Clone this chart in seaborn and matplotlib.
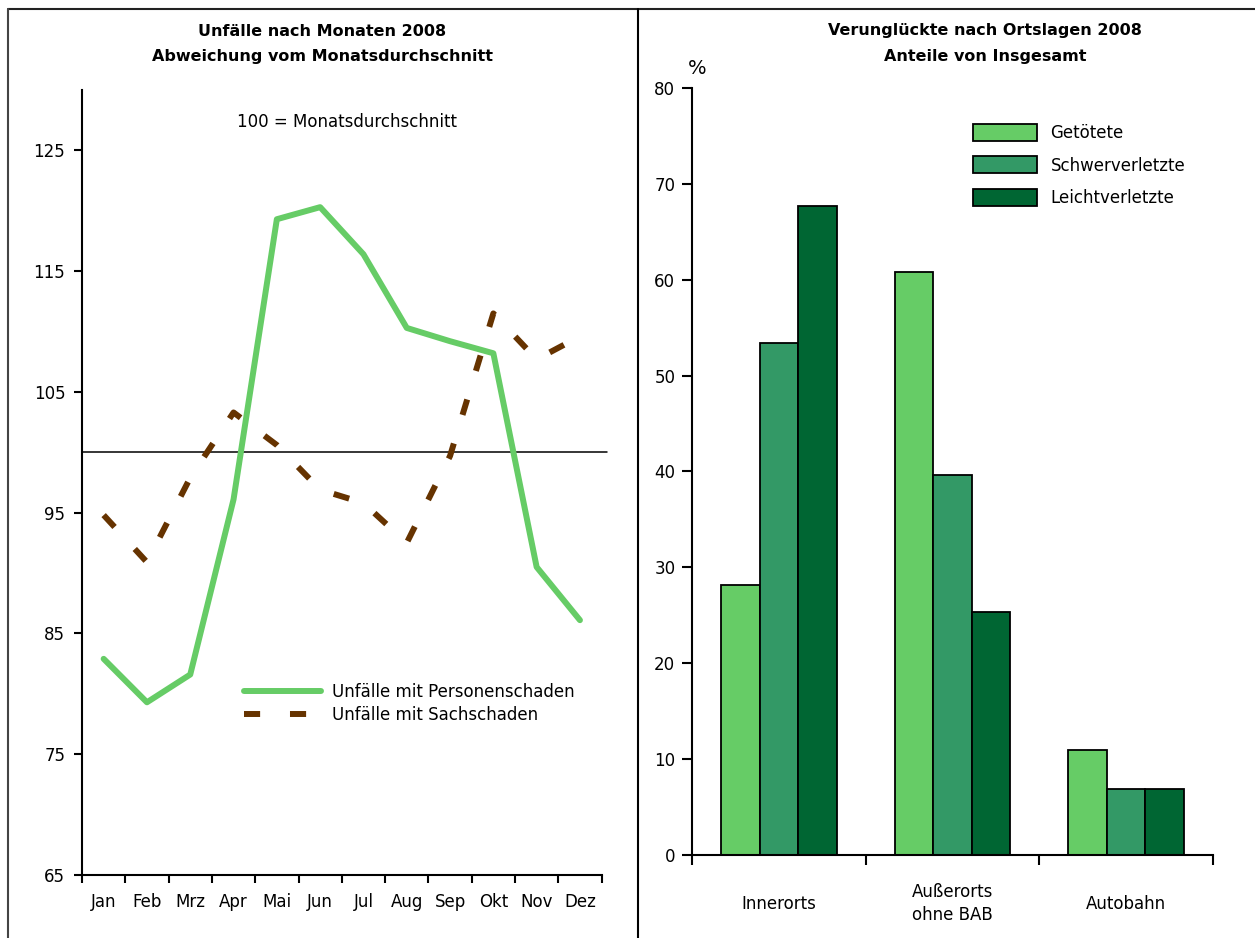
import matplotlib
matplotlib.use("Agg")
import matplotlib.pyplot as plt
from matplotlib.lines import Line2D
from matplotlib.patches import Patch
import numpy as np
import pandas as pd
import seaborn as sns

# data
monate = ["Jan", "Feb", "Mrz", "Apr", "Mai", "Jun", "Jul", "Aug", "Sep", "Okt", "Nov", "Dez"]
personenschaden = [82.9, 79.3, 81.6, 96.1, 119.3, 120.3, 116.4, 110.3, 109.2, 108.2, 90.5, 86.1]
sachschaden = [94.8, 90.9, 97.9, 103.3, 100.6, 96.9, 95.8, 92.5, 99.7, 111.5, 107.7, 109.6]

ortslagen = ["Innerorts", "Außerorts\nohne BAB", "Autobahn"]
getoetete = [28.2, 60.8, 11.0]
schwerverletzte = [53.4, 39.6, 6.9]
leichtverletzte = [67.7, 25.3, 6.9]
gruppen = ["Getötete", "Schwerverletzte", "Leichtverletzte"]
farben = ["#66cc66", "#339966", "#006633"]

sns.set_style("ticks")
plt.rcParams["font.family"] = ["DejaVu Sans"]
plt.rcParams["axes.linewidth"] = 1.5
for key in ["text.color", "axes.labelcolor", "xtick.color", "ytick.color", "axes.edgecolor"]:
    plt.rcParams[key] = "black"

W, H = 1255, 938
fig = plt.figure(figsize=(W / 100, H / 100), dpi=100)


def fx(px):
    return px / W


def fy(py):
    return 1 - py / H


# --- left panel: lines ---
ax1 = fig.add_axes([fx(82), fy(875), fx(601.6) - fx(82), (875 - 90) / H])
line_df = pd.DataFrame({"idx": np.arange(len(monate)),
                        "Personenschaden": personenschaden,
                        "Sachschaden": sachschaden})

ax1.axhline(100, color="black", lw=1.1, xmax=1.01, clip_on=False, zorder=1)
sns.lineplot(data=line_df, x="idx", y="Personenschaden", ax=ax1, color="#66cc66",
             lw=4.3, solid_capstyle="round", label="Unfälle mit Personenschaden", zorder=3)
sns.lineplot(data=line_df, x="idx", y="Sachschaden", ax=ax1, color="#663300",
             lw=4.3, linestyle=(0, (2.7, 5)), label="Unfälle mit Sachschaden", zorder=2)

ax1.set_xlim(-0.5, len(monate) - 0.5)
ax1.set_ylim(65, 130)
ax1.set_yticks([65, 75, 85, 95, 105, 115, 125])
ax1.set_xticks(np.arange(-0.5, len(monate), 1.0))
ax1.set_xticklabels([])
ax1.set_xticks(np.arange(len(monate)), minor=True)
ax1.set_xticklabels(monate, minor=True)
ax1.tick_params(axis="x", which="major", length=6, width=1.5, direction="out")
ax1.tick_params(axis="x", which="minor", length=0, pad=13, labelsize=12)
ax1.tick_params(axis="y", length=6, width=1.5, pad=6, labelsize=12)
ax1.set_xlabel("")
ax1.set_ylabel("")
sns.despine(ax=ax1)
ax1.legend(loc="center left", bbox_to_anchor=((244 - 82) / 519.6, (875 - 703.5) / 785),
           frameon=False, fontsize=12, handlelength=4.6, handletextpad=0.7,
           borderpad=0, borderaxespad=0, labelspacing=0.3)
fig.text(fx(347), fy(122), "100 = Monatsdurchschnitt", ha="center", va="center", fontsize=12)

# --- right panel: bars ---
ax2 = fig.add_axes([fx(692), fy(855), fx(1213) - fx(692), (855 - 88) / H])
bar_df = pd.DataFrame({
    "ort": ortslagen * 3,
    "gruppe": [g for g in gruppen for _ in ortslagen],
    "anteil": getoetete + schwerverletzte + leichtverletzte,
})
sns.barplot(data=bar_df, x="ort", y="anteil", hue="gruppe", hue_order=gruppen,
            palette=farben, width=0.666, edgecolor="black", linewidth=1.3,
            ax=ax2, legend=False, saturation=1)
ax2.set_xlim(-0.5, len(ortslagen) - 0.5)
ax2.set_ylim(0, 80)
ax2.set_yticks(range(0, 81, 10))
ax2.set_xticks(np.arange(-0.5, len(ortslagen), 1.0))
ax2.set_xticklabels([])
ax2.set_xticks(np.arange(len(ortslagen)), minor=True)
ax2.set_xticklabels(ortslagen, minor=True)
for lab in ax2.get_xticklabels(minor=True):
    lab.set_va("center")
    lab.set_linespacing(1.35)
ax2.tick_params(axis="x", which="major", length=7, width=1.5, direction="out")
ax2.tick_params(axis="x", which="minor", length=0, pad=35, labelsize=12)
ax2.tick_params(axis="y", length=7, width=1.5, pad=5, labelsize=12)
ax2.set_xlabel("")
ax2.set_ylabel("")
sns.despine(ax=ax2)
handles = [Patch(facecolor=c, edgecolor="black", linewidth=1.3) for c in farben]
ax2.legend(handles, gruppen, loc="upper left",
           bbox_to_anchor=((972.5 - 692) / 521, (855 - 124) / 767),
           frameon=False, fontsize=12, handlelength=3.84, handleheight=1.2,
           handletextpad=0.84, labelspacing=0.85, borderpad=0, borderaxespad=0)
fig.text(fx(697), fy(68), "%", ha="center", va="center", fontsize=14)

# --- titles ---
fig.text(fx(322), fy(31), "Unfälle nach Monaten 2008", ha="center", va="center",
         fontsize=11.5, fontweight="bold")
fig.text(fx(322), fy(56), "Abweichung vom Monatsdurchschnitt", ha="center", va="center",
         fontsize=11.5, fontweight="bold")
fig.text(fx(985), fy(31), "Verunglückte nach Ortslagen 2008", ha="center", va="center",
         fontsize=11.5, fontweight="bold")
fig.text(fx(985), fy(56), "Anteile von Insgesamt", ha="center", va="center",
         fontsize=11.5, fontweight="bold")

# --- frame lines ---
fig.add_artist(Line2D([fx(8), 1], [fy(9), fy(9)], color="#222222", lw=1.5))
fig.add_artist(Line2D([fx(8), fx(8)], [0, fy(9)], color="#444444", lw=1.5))
fig.add_artist(Line2D([fx(638), fx(638)], [0, fy(9)], color="black", lw=1.5))

fig.savefig("out.png", dpi=100)
